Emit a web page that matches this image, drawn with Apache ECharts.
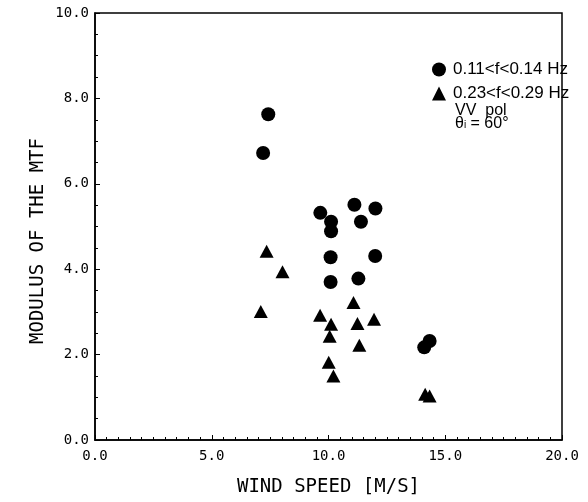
<!DOCTYPE html>
<html>
<head>
<meta charset="utf-8">
<script src="https://cdn.jsdelivr.net/npm/echarts@6/dist/echarts.min.js"></script>
<style>html,body{margin:0;padding:0;background:#fff;}#c{width:588px;height:502px;}</style>
</head>
<body>
<div id="c"></div>
<script>
// Low-frequency band (circles): wind speed [m/s], modulus of MTF
const lowFreqWind = [7.42, 7.20, 9.65, 11.11, 12.01, 10.11, 10.11, 11.39, 10.09, 12.00, 10.09, 11.28, 14.10, 14.33];
const lowFreqMTF  = [7.63, 6.72, 5.32, 5.51, 5.42, 5.11, 4.89, 5.11, 4.28, 4.31, 3.70, 3.78, 2.17, 2.32];
// High-frequency band (triangles)
const highFreqWind = [7.35, 8.03, 7.10, 9.64, 10.11, 10.05, 11.07, 11.24, 11.95, 11.32, 10.01, 10.21, 14.14, 14.33];
const highFreqMTF  = [4.42, 3.94, 3.01, 2.92, 2.71, 2.43, 3.22, 2.73, 2.83, 2.22, 1.82, 1.50, 1.07, 1.03];
const seriesNames = ['0.11<f<0.14 Hz', '0.23<f<0.29 Hz'];
const xTitle = 'WIND SPEED [M/S]';
const yTitle = 'MODULUS OF THE MTF';
const noteLines = ['VV  pol', 'θ{s|i} = 60°'];

const pair = (xs, ys) => xs.map((x, i) => [x, ys[i]]);
const mono = 'DejaVu Sans Mono';
const narrow = '"Liberation Sans Narrow", "Liberation Sans"';

const chart = echarts.init(document.getElementById('c'), null, {renderer: 'canvas'});
chart.setOption({
  animation: false,
  backgroundColor: '#fff',
  grid: {left: 95, right: 26, top: 13, bottom: 61, show: true, borderColor: '#000', borderWidth: 1.5, backgroundColor: 'transparent'},
  xAxis: {
    type: 'value', min: 0, max: 20, interval: 5,
    name: xTitle, nameLocation: 'middle', nameGap: 38,
    nameTextStyle: {fontFamily: mono, fontSize: 19, color: '#000'},
    axisLine: {show: true, lineStyle: {color: '#000', width: 1.5}},
    axisTick: {show: true, inside: true, length: 5, lineStyle: {color: '#000'}},
    minorTick: {show: true, splitNumber: 10, length: 3, lineStyle: {color: '#000'}},
    axisLabel: {fontFamily: mono, fontSize: 14, color: '#000', margin: 9, formatter: v => v.toFixed(1)},
    splitLine: {show: false}
  },
  yAxis: {
    type: 'value', min: 0, max: 10, interval: 2,
    axisLine: {show: true, lineStyle: {color: '#000', width: 1.5}},
    axisTick: {show: true, inside: true, length: 5, lineStyle: {color: '#000'}},
    minorTick: {show: true, splitNumber: 4, length: 3, lineStyle: {color: '#000'}},
    axisLabel: {fontFamily: mono, fontSize: 14, color: '#000', margin: 6, formatter: v => v.toFixed(1)},
    splitLine: {show: false}
  },
  legend: {
    orient: 'vertical', left: 427, top: 56, itemWidth: 14, itemHeight: 14, itemGap: 7,
    textStyle: {fontFamily: narrow, fontSize: 17, color: '#000', padding: [0, 0, 0, 2]},
    data: [{name: seriesNames[0], icon: 'circle'}, {name: seriesNames[1], icon: 'triangle'}]
  },
  graphic: [{
    type: 'text', x: 38, y: 241, rotation: Math.PI / 2,
    style: {text: yTitle, font: '19px "DejaVu Sans Mono"', fill: '#000', align: 'center', verticalAlign: 'middle'}
  }, {
    type: 'text', left: 455, top: 103,
    style: {
      text: noteLines.join('\n'),
      font: '16px ' + narrow, fill: '#000', lineHeight: 13,
      rich: {s: {fontSize: 10, verticalAlign: 'bottom', lineHeight: 13, font: '10px "Liberation Sans Narrow"'}}
    }
  }],
  series: [
    {name: seriesNames[0], type: 'scatter', symbol: 'circle', symbolSize: 14,
     itemStyle: {color: '#000', opacity: 1}, data: pair(lowFreqWind, lowFreqMTF)},
    {name: seriesNames[1], type: 'scatter', symbol: 'triangle', symbolSize: [14, 13],
     itemStyle: {color: '#000', opacity: 1}, data: pair(highFreqWind, highFreqMTF)}
  ]
});
</script>
</body>
</html>
